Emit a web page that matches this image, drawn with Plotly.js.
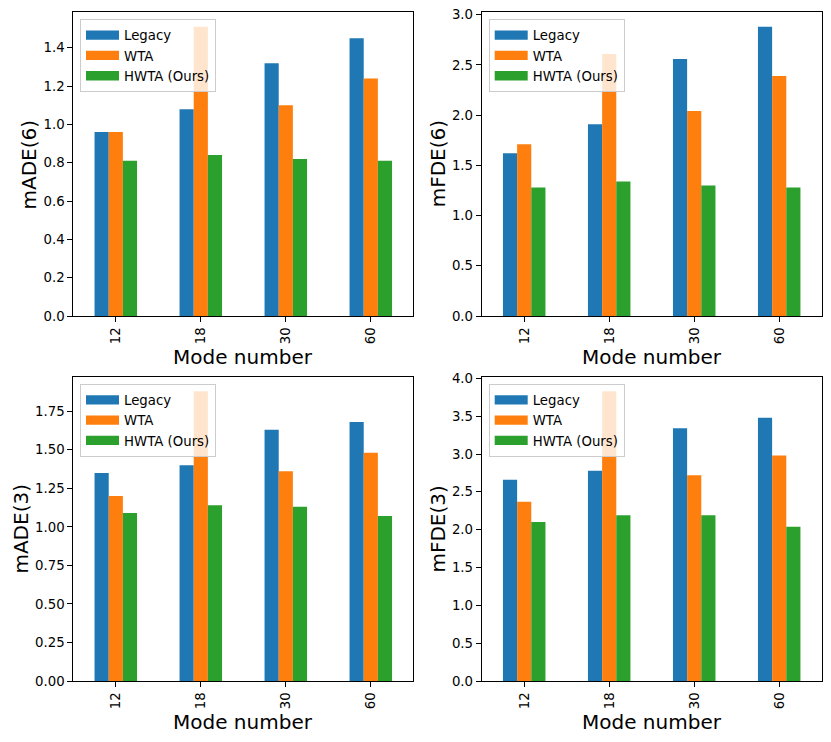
<!DOCTYPE html>
<html>
<head>
<meta charset="utf-8">
<script src="https://cdn.plot.ly/plotly-3.0.1.min.js"></script>
<style>html,body{margin:0;padding:0;background:#fff;}#chart{width:831px;height:742px;}</style>
</head>
<body>
<div id="chart"></div>
<script>
// ---- data ----
const modes = ['12', '18', '30', '60'];
const seriesNames = ['Legacy', 'WTA', 'HWTA (Ours)'];

const legacyMADE6 = [0.96, 1.08, 1.32, 1.45];
const wtaMADE6    = [0.96, 1.51, 1.10, 1.24];
const hwtaMADE6   = [0.81, 0.84, 0.82, 0.81];

const legacyMFDE6 = [1.62, 1.91, 2.56, 2.88];
const wtaMFDE6    = [1.71, 2.61, 2.04, 2.39];
const hwtaMFDE6   = [1.28, 1.34, 1.30, 1.28];

const legacyMADE3 = [1.35, 1.40, 1.63, 1.68];
const wtaMADE3    = [1.20, 1.88, 1.36, 1.48];
const hwtaMADE3   = [1.09, 1.14, 1.13, 1.07];

const legacyMFDE3 = [2.66, 2.78, 3.34, 3.48];
const wtaMFDE3    = [2.37, 3.83, 2.72, 2.98];
const hwtaMFDE3   = [2.10, 2.19, 2.19, 2.04];

const yLabels = ['mADE(6)', 'mFDE(6)', 'mADE(3)', 'mFDE(3)'];
const xLabel = 'Mode number';

// ---- styling ----
const colors = ['#1f77b4', '#ff7f0e', '#2ca02c'];
const FONT = 'DejaVu Sans, Liberation Sans, sans-serif';
const panels = [
  {vals: [legacyMADE6, wtaMADE6, hwtaMADE6], dtick: 0.2, fmt: '.1f', ytOff: 44},
  {vals: [legacyMFDE6, wtaMFDE6, hwtaMFDE6], dtick: 0.5, fmt: '.1f', ytOff: 43.5},
  {vals: [legacyMADE3, wtaMADE3, hwtaMADE3], dtick: 0.25, fmt: '.2f', ytOff: 52.6},
  {vals: [legacyMFDE3, wtaMFDE3, hwtaMFDE3], dtick: 0.5, fmt: '.1f', ytOff: 44}
];
const W = 831, H = 742;
const xPix = [[73.3, 413.3], [481.7, 821.7]];
const yPix = [[12.3, 316], [376.7, 681]];
const xDom = xPix.map(d => [d[0] / W, d[1] / W]);
const yDom = yPix.map(d => [1 - d[1] / H, 1 - d[0] / H]);
const legPos = [[80 / W, 1 - 19 / H], [488.7 / W, 1 - 19 / H], [80 / W, 1 - 383.7 / H], [488.7 / W, 1 - 383.7 / H]];

const traces = [];
const annotations = [];
const layout = {
  width: W, height: H,
  margin: {l: 0, r: 0, t: 0, b: 0},
  paper_bgcolor: '#fff', plot_bgcolor: '#fff',
  font: {family: FONT, size: 13.3, color: '#000'},
  barmode: 'group', bargap: 0.5, bargroupgap: 0,
  showlegend: true,
  annotations: annotations
};

panels.forEach((p, i) => {
  const n = i + 1;
  const xa = n === 1 ? 'x' : 'x' + n;
  const ya = n === 1 ? 'y' : 'y' + n;
  const leg = n === 1 ? 'legend' : 'legend' + n;
  p.vals.forEach((v, s) => {
    traces.push({
      type: 'bar', x: modes, y: v, name: seriesNames[s],
      xaxis: xa, yaxis: ya, marker: {color: colors[s], line: {width: 0}},
      showlegend: false, hoverinfo: 'x+y+name'
    });
  });
  // legend keys (matplotlib-style wide patches)
  p.vals.forEach((v, s) => {
    traces.push({
      type: 'scatter', mode: 'lines', x: [null], y: [null], name: seriesNames[s],
      xaxis: xa, yaxis: ya, line: {color: colors[s], width: 9.3},
      legend: leg, showlegend: true, hoverinfo: 'skip'
    });
  });
  const ymax = Math.max(...p.vals.flat()) * 1.05;
  const col = i % 2, row = Math.floor(i / 2);
  layout['xaxis' + (n === 1 ? '' : n)] = {
    domain: xDom[col], anchor: ya, type: 'category',
    range: [-0.5, 3.5], tickangle: -90,
    showline: true, mirror: true, linecolor: '#000', linewidth: 1,
    ticks: 'outside', ticklen: 5, tickwidth: 1, tickcolor: '#000',
    showgrid: false, zeroline: false,
    tickfont: {family: FONT, size: 13.3, color: '#000'}
  };
  layout['yaxis' + (n === 1 ? '' : n)] = {
    domain: yDom[row], anchor: xa,
    range: [0, ymax], dtick: p.dtick, tick0: 0, tickformat: p.fmt,
    showline: true, mirror: true, linecolor: '#000', linewidth: 1,
    ticks: 'outside', ticklen: 5, tickwidth: 1, tickcolor: '#000',
    showgrid: false, zeroline: false,
    tickfont: {family: FONT, size: 13.3, color: '#000'}
  };
  layout[leg] = {
    x: legPos[i][0], y: legPos[i][1], xanchor: 'left', yanchor: 'top',
    bgcolor: 'rgba(255,255,255,0.8)', bordercolor: '#cccccc', borderwidth: 1,
    itemwidth: 33,
    font: {family: FONT, size: 13.3, color: '#000'}
  };
  // axis titles
  annotations.push({
    text: xLabel, xref: 'paper', yref: 'paper', showarrow: false,
    x: (xPix[col][0] + xPix[col][1]) / 2 / W, y: 1 - (yPix[row][1] + 41) / H,
    xanchor: 'center', yanchor: 'middle',
    font: {family: FONT, size: 20, color: '#000'}
  });
  annotations.push({
    text: yLabels[i], xref: 'paper', yref: 'paper', showarrow: false, textangle: -90,
    x: (xPix[col][0] - p.ytOff) / W, y: 1 - (yPix[row][0] + yPix[row][1]) / 2 / H,
    xanchor: 'center', yanchor: 'middle',
    font: {family: FONT, size: 20, color: '#000'}
  });
});

Plotly.newPlot('chart', traces, layout, {staticPlot: true, displayModeBar: false});
</script>
</body>
</html>
